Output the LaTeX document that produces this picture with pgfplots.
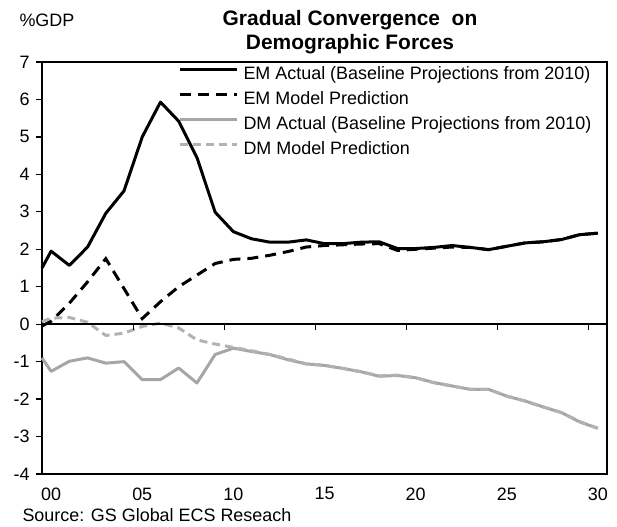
\documentclass[border=0pt]{standalone}
\usepackage{fontspec}
\setmainfont{Liberation Sans}
\usepackage{pgfplots}
\pgfplotsset{compat=1.18}
\definecolor{dmgray}{RGB}{166,166,166}
\definecolor{dmgraylight}{RGB}{178,178,178}
\begin{document}
\begin{tikzpicture}[x=1bp,y=1bp]
\path[use as bounding box] (0,0) rectangle (617,-527);
\begin{axis}[
  at={(42bp,-474bp)}, anchor=south west,
  scale only axis, width=565bp, height=412bp,
  xmin=-0.5, xmax=30.5, ymin=-4, ymax=7,
  xtick={0,5,10,15,20,25,30},
  xticklabels={00,05,10,15,20,25,30},
  major x tick style={draw=none},
  ytick={-4,-3,-2,-1,0,1,2,3,4,5,6,7},
  yticklabels={-4,-3,-2,-1,0,1,2,3,4,5,6,7},
  ytick pos=left, tick align=outside, major tick length=6bp,
  axis line style={line width=1.2bp},
  tick style={line width=1.2bp, black},
  tick label style={font=\fontsize{18}{20}\selectfont},
  yticklabel style={xshift=-3bp},
  xticklabel style={yshift=-4bp},
  legend style={at={(rel axis cs:0.236,0.994)}, anchor=north west, draw=none, fill=none,
    font=\fontsize{18}{20}\selectfont,
    nodes={inner sep=0pt, text height=13bp, text depth=4bp},
    row sep=8bp,
    /tikz/every odd column/.append style={column sep=5bp}},
  legend cell align=left,
  legend image code/.code={\draw[#1, line width=3bp] (0bp,6bp) -- (57bp,6bp);},
  clip=false,
]
\addplot[black, line width=3bp, line join=round] coordinates {
(-0.5,1.50) (0,1.95) (1,1.57) (2,2.06) (3,2.96) (4,3.56) (5,5.00) (6,5.93) (7,5.42) (8,4.45)
(9,2.99) (10,2.47) (11,2.28) (12,2.19) (13,2.19) (14,2.25) (15,2.15) (16,2.15) (17,2.19)
(18,2.20) (19,2.02) (20,2.02) (21,2.05) (22,2.10) (23,2.05) (24,1.99) (25,2.08) (26,2.17)
(27,2.20) (28,2.26) (29,2.39) (30,2.43)};
\addlegendentry{EM Actual (Baseline Projections from 2010)}
\addplot[black, line width=3bp, dash pattern=on 11bp off 7bp] coordinates {
(-0.5,-0.05) (0,0.08) (1,0.56) (2,1.13) (3,1.75) (4,0.95) (5,0.15) (6,0.60) (7,1.00) (8,1.31)
(9,1.62) (10,1.73) (11,1.76) (12,1.84) (13,1.94) (14,2.06) (15,2.10) (16,2.12) (17,2.14)
(18,2.15) (19,1.97) (20,2.00) (21,2.03) (22,2.06) (23,2.05) (24,1.99) (25,2.08) (26,2.17)
(27,2.20) (28,2.26) (29,2.39) (30,2.43)};
\addlegendentry{EM Model Prediction}
\addplot[dmgray, line width=3bp, line join=round] coordinates {
(-0.5,-0.90) (0,-1.26) (1,-0.99) (2,-0.90) (3,-1.04) (4,-1.00) (5,-1.48) (6,-1.48) (7,-1.17)
(8,-1.57) (9,-0.81) (10,-0.64) (11,-0.73) (12,-0.81) (13,-0.95) (14,-1.06) (15,-1.10)
(16,-1.18) (17,-1.27) (18,-1.39) (19,-1.37) (20,-1.43) (21,-1.56) (22,-1.65) (23,-1.74)
(24,-1.74) (25,-1.92) (26,-2.05) (27,-2.21) (28,-2.36) (29,-2.61) (30,-2.78)};
\addlegendentry{DM Actual (Baseline Projections from 2010)}
\addplot[dmgraylight, line width=3bp, dash pattern=on 8bp off 5bp] coordinates {
(-0.5,0.07) (0,0.16) (1,0.18) (2,0.05) (3,-0.30) (4,-0.24) (5,-0.06) (6,0.03) (7,-0.10)
(8,-0.42) (9,-0.53) (10,-0.62) (11,-0.71) (12,-0.81) (13,-0.93) (14,-1.06) (15,-1.10)
(16,-1.18) (17,-1.27) (18,-1.38) (19,-1.36) (20,-1.43) (21,-1.56) (22,-1.65) (23,-1.74)
(24,-1.74) (25,-1.92) (26,-2.05) (27,-2.21) (28,-2.36) (29,-2.60) (30,-2.78)};
\addlegendentry{DM Model Prediction}
\draw[line width=1.5bp] (axis cs:-0.5,0) -- (axis cs:30.5,0);
\pgfplotsinvokeforeach{-0.5,4.5,9.5,14.5,19.5,24.5,29.5}{
  \draw[line width=1.2bp] (axis cs:#1,0) -- ([yshift=-6bp]axis cs:#1,0);
}
\end{axis}
\node[anchor=west, font=\fontsize{18}{20}\selectfont] at (16bp,-20bp) {\%GDP};
\node[align=center, font=\bfseries\fontsize{21}{24}\selectfont] at (350bp,-32bp) {Gradual Convergence\ \ on\\Demographic Forces};
\node[anchor=west, font=\fontsize{18}{20}\selectfont] at (19bp,-515bp) {Source: GS Global ECS Reseach};
\end{tikzpicture}
\end{document}
